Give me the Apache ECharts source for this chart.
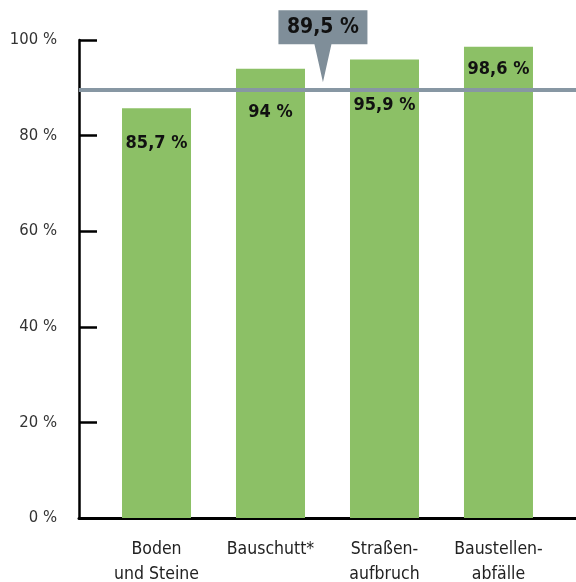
<!DOCTYPE html>
<html>
<head>
<meta charset="utf-8">
<script src="https://cdn.jsdelivr.net/npm/echarts@6/dist/echarts.min.js"></script>
<style>
  html, body { margin: 0; padding: 0; background: #fff; }
  #chart { width: 576px; height: 582px; }
</style>
</head>
<body>
<div id="chart"></div>
<script>
// Daten
var categories = ['Boden\nund Steine', 'Bauschutt*', 'Straßen-\naufbruch', 'Baustellen-\nabfälle'];
var quoten = [85.7, 94, 95.9, 98.6];
var durchschnitt = 89.5;
var yTicks = [0, 20, 40, 60, 80, 100];

var font = "'Liberation Sans Narrow', 'DejaVu Sans Condensed', sans-serif";

function fmt(v) {
    return String(v).replace('.', ',') + ' %';
}

// Abstand der Beschriftung von der Balkenoberkante (Linie nicht überdecken)
var labelGap = [26, 35, 37, 14];

var barData = quoten.map(function (v, i) {
    return {
        value: [i + 1, v],
        label: { distance: labelGap[i] }
    };
});

var dom = document.getElementById('chart');
var myChart = echarts.init(dom);
var option = {
    animation: false,
    grid: {
        left: 79,
        right: 0,
        top: 40,
        bottom: 64,
        outerBoundsMode: 'none'
    },
    xAxis: {
        type: 'value',
        min: 0.32,
        max: 4.68,
        splitLine: { show: false },
        axisLine: {
            show: true,
            lineStyle: { color: '#000', width: 3 }
        },
        axisTick: { show: false },
        axisLabel: {
            customValues: [1, 2, 3, 4],
            formatter: function (v) {
                return categories[Math.round(v) - 1];
            },
            fontFamily: font,
            fontSize: 17.5,
            lineHeight: 25,
            color: '#222',
            margin: 19
        }
    },
    yAxis: {
        type: 'value',
        min: yTicks[0],
        max: yTicks[yTicks.length - 1],
        interval: 20,
        splitLine: { show: false },
        axisLine: {
            show: true,
            lineStyle: { color: '#000', width: 2.5 }
        },
        axisTick: {
            show: true,
            inside: true,
            length: 18,
            lineStyle: { color: '#000', width: 2.5 }
        },
        axisLabel: {
            formatter: '{value} %',
            fontFamily: font,
            fontSize: 16.5,
            color: '#333',
            margin: 22
        }
    },
    series: [
        {
            type: 'bar',
            barWidth: 69,
            itemStyle: { color: '#8cc066' },
            label: {
                show: true,
                position: 'insideTop',
                formatter: function (p) { return fmt(p.value[1]); },
                fontFamily: font,
                fontWeight: 'bold',
                fontSize: 18,
                color: '#111'
            },
            data: barData,
            markLine: {
                silent: true,
                symbol: 'none',
                label: { show: false },
                lineStyle: { color: '#8797a3', width: 4, type: 'solid' },
                data: [{ yAxis: durchschnitt }]
            },
            markPoint: {
                silent: true,
                z: 10,
                symbol: 'path://M0 0 H89 V34 H53 L44.5 72 L36 34 H0 Z',
                symbolSize: [89, 72],
                symbolOffset: [0, -44],
                itemStyle: { color: '#7f8e99' },
                label: {
                    show: true,
                    position: 'inside',
                    offset: [0, -19],
                    formatter: fmt(durchschnitt),
                    fontFamily: font,
                    fontWeight: 'bold',
                    fontSize: 21,
                    color: '#111'
                },
                data: [{ coord: [2.46, durchschnitt] }]
            }
        }
    ]
};
if (option && typeof option === 'object') {
    myChart.setOption(option, true);
}
</script>
</body>
</html>
